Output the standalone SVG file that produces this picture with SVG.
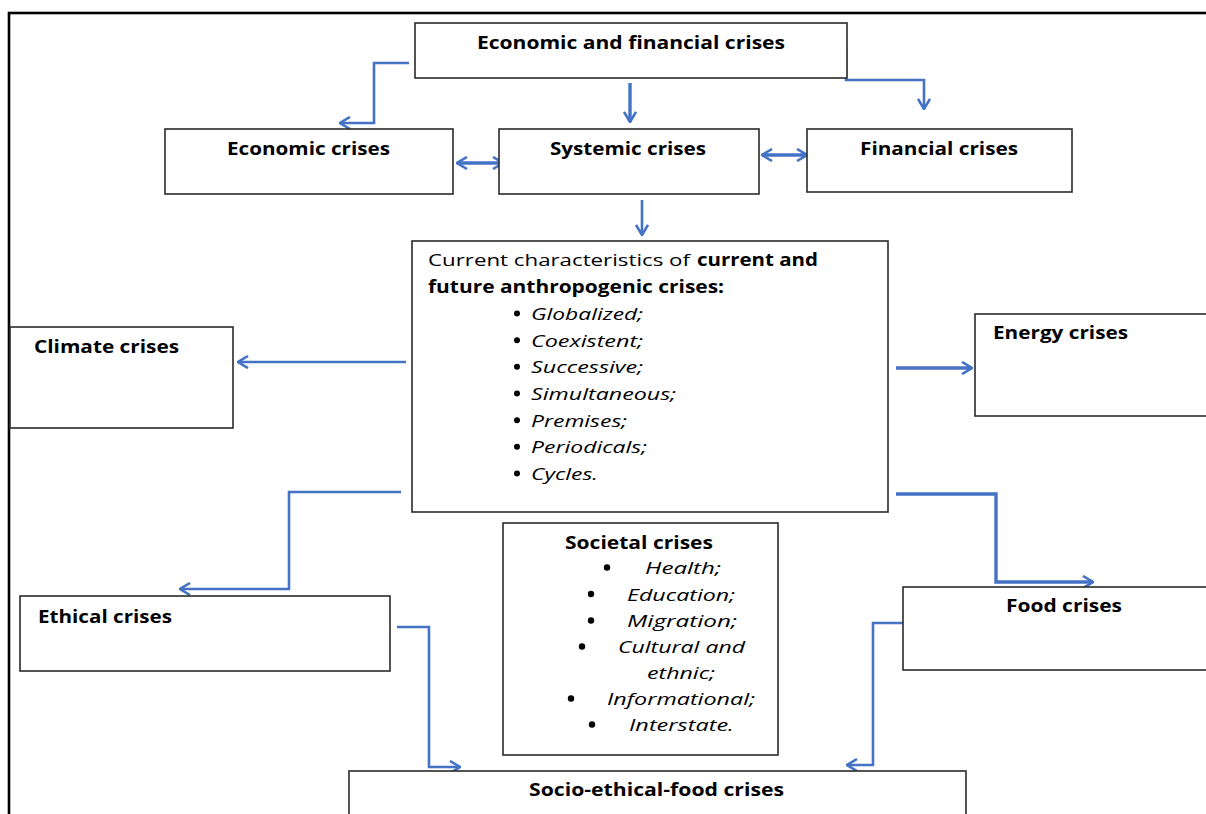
<svg xmlns="http://www.w3.org/2000/svg" width="1206" height="814" viewBox="0 0 1206 814">
<defs>
<style>
.box{fill:#fff;stroke:#2a2a2a;stroke-width:1.6}
.frame{fill:none;stroke:#000;stroke-width:2.6}
.t{font-family:"Open Sans","Liberation Sans",sans-serif;font-size:17px;fill:#000}
.b{font-weight:bold}
.i{font-style:italic}
.c{fill:none;stroke:#4472C4;stroke-width:2.6}
.thick{stroke-width:3.4}
.dot{fill:#000}
</style>
<marker id="ah" viewBox="0 0 12 14" refX="11" refY="7" markerWidth="12" markerHeight="14" markerUnits="userSpaceOnUse" orient="auto-start-reverse">
<path d="M1,1 L11,7 L1,13" fill="none" stroke="#4472C4" stroke-width="2.6"/>
</marker>
</defs>
<rect width="1206" height="814" fill="#fff"/>
<rect class="frame" x="9" y="13" width="1210" height="820"/>

<g id="connectors">
<path class="c" d="M409,63 H374 V123 H340" marker-end="url(#ah)"/>
<path class="c thick" d="M630,83 V122" marker-end="url(#ah)"/>
<path class="c" d="M846,49 V80 H924 V109" marker-end="url(#ah)"/>
<path class="c thick" d="M457,163 H503" marker-start="url(#ah)" marker-end="url(#ah)"/>
<path class="c thick" d="M762,155 H807" marker-start="url(#ah)" marker-end="url(#ah)"/>
<path class="c" d="M642,200 V235" marker-end="url(#ah)"/>
<path class="c" d="M406,362 H238" marker-end="url(#ah)"/>
<path class="c thick" d="M896,368 H972" marker-end="url(#ah)"/>
<path class="c" d="M401,492 H289 V589 H180" marker-end="url(#ah)"/>
<path class="c thick" d="M896,494 H996 V582 H1093" marker-end="url(#ah)"/>
<path class="c" d="M397,627 H429 V767 H460" marker-end="url(#ah)"/>
<path class="c" d="M903,623 H873 V765 H847" marker-end="url(#ah)"/>
</g>

<g id="econ-fin">
<rect class="box" x="415" y="23" width="432" height="55"/>
<text class="t b" x="477" y="49" textLength="308" lengthAdjust="spacingAndGlyphs">Economic and financial crises</text>
</g>
<g id="economic">
<rect class="box" x="165" y="129" width="288" height="65"/>
<text class="t b" x="227" y="155" textLength="163" lengthAdjust="spacingAndGlyphs">Economic crises</text>
</g>
<g id="systemic">
<rect class="box" x="499" y="129" width="260" height="65"/>
<text class="t b" x="550" y="155" textLength="156" lengthAdjust="spacingAndGlyphs">Systemic crises</text>
</g>
<g id="financial">
<rect class="box" x="807" y="129" width="265" height="63"/>
<text class="t b" x="860" y="155" textLength="158" lengthAdjust="spacingAndGlyphs">Financial crises</text>
</g>

<g id="central">
<rect class="box" x="412" y="241" width="476" height="271"/>
<text class="t" x="428" y="266" textLength="262" lengthAdjust="spacingAndGlyphs">Current characteristics of</text>
<text class="t b" x="697" y="266" textLength="121" lengthAdjust="spacingAndGlyphs">current and</text>
<text class="t b" x="428" y="293" textLength="296" lengthAdjust="spacingAndGlyphs">future anthropogenic crises:</text>
<circle class="dot" cx="517" cy="313.5" r="3"/>
<circle class="dot" cx="517" cy="340.2" r="3"/>
<circle class="dot" cx="517" cy="366.8" r="3"/>
<circle class="dot" cx="517" cy="393.5" r="3"/>
<circle class="dot" cx="517" cy="420.2" r="3"/>
<circle class="dot" cx="517" cy="446.8" r="3"/>
<circle class="dot" cx="517" cy="473.5" r="3"/>
<text class="t i" x="531" y="320" textLength="112" lengthAdjust="spacingAndGlyphs">Globalized;</text>
<text class="t i" x="531" y="346.7" textLength="112" lengthAdjust="spacingAndGlyphs">Coexistent;</text>
<text class="t i" x="531" y="373.3" textLength="112" lengthAdjust="spacingAndGlyphs">Successive;</text>
<text class="t i" x="531" y="400" textLength="145" lengthAdjust="spacingAndGlyphs">Simultaneous;</text>
<text class="t i" x="531" y="426.7" textLength="96" lengthAdjust="spacingAndGlyphs">Premises;</text>
<text class="t i" x="531" y="453.3" textLength="116" lengthAdjust="spacingAndGlyphs">Periodicals;</text>
<text class="t i" x="531" y="480" textLength="67" lengthAdjust="spacingAndGlyphs">Cycles.</text>
</g>

<g id="climate">
<rect class="box" x="10" y="327" width="223" height="101"/>
<text class="t b" x="34" y="353" textLength="145" lengthAdjust="spacingAndGlyphs">Climate crises</text>
</g>
<g id="energy">
<rect class="box" x="975" y="314" width="260" height="102"/>
<text class="t b" x="993" y="339" textLength="135" lengthAdjust="spacingAndGlyphs">Energy crises</text>
</g>
<g id="ethical">
<rect class="box" x="20" y="596" width="370" height="75"/>
<text class="t b" x="38" y="623" textLength="134" lengthAdjust="spacingAndGlyphs">Ethical crises</text>
</g>
<g id="food">
<rect class="box" x="903" y="587" width="330" height="83"/>
<text class="t b" x="1006" y="612" textLength="116" lengthAdjust="spacingAndGlyphs">Food crises</text>
</g>

<g id="societal">
<rect class="box" x="503" y="523" width="275" height="232"/>
<text class="t b" x="565" y="549" textLength="148" lengthAdjust="spacingAndGlyphs">Societal crises</text>
<circle class="dot" cx="607" cy="567.5" r="3.2"/>
<circle class="dot" cx="591" cy="594" r="3.2"/>
<circle class="dot" cx="591" cy="620.5" r="3.2"/>
<circle class="dot" cx="582" cy="646.5" r="3.2"/>
<circle class="dot" cx="571" cy="698.5" r="3.2"/>
<circle class="dot" cx="592" cy="724.5" r="3.2"/>
<text class="t i" x="645" y="574" textLength="76" lengthAdjust="spacingAndGlyphs">Health;</text>
<text class="t i" x="627" y="600.5" textLength="108" lengthAdjust="spacingAndGlyphs">Education;</text>
<text class="t i" x="627" y="627" textLength="110" lengthAdjust="spacingAndGlyphs">Migration;</text>
<text class="t i" x="618" y="653" textLength="127" lengthAdjust="spacingAndGlyphs">Cultural and</text>
<text class="t i" x="647" y="678.5" textLength="68" lengthAdjust="spacingAndGlyphs">ethnic;</text>
<text class="t i" x="607" y="705" textLength="148" lengthAdjust="spacingAndGlyphs">Informational;</text>
<text class="t i" x="629" y="731" textLength="105" lengthAdjust="spacingAndGlyphs">Interstate.</text>
</g>

<g id="socio-ethical-food">
<rect class="box" x="349" y="771" width="617" height="70"/>
<text class="t b" x="529" y="796" textLength="255" lengthAdjust="spacingAndGlyphs">Socio-ethical-food crises</text>
</g>
</svg>
